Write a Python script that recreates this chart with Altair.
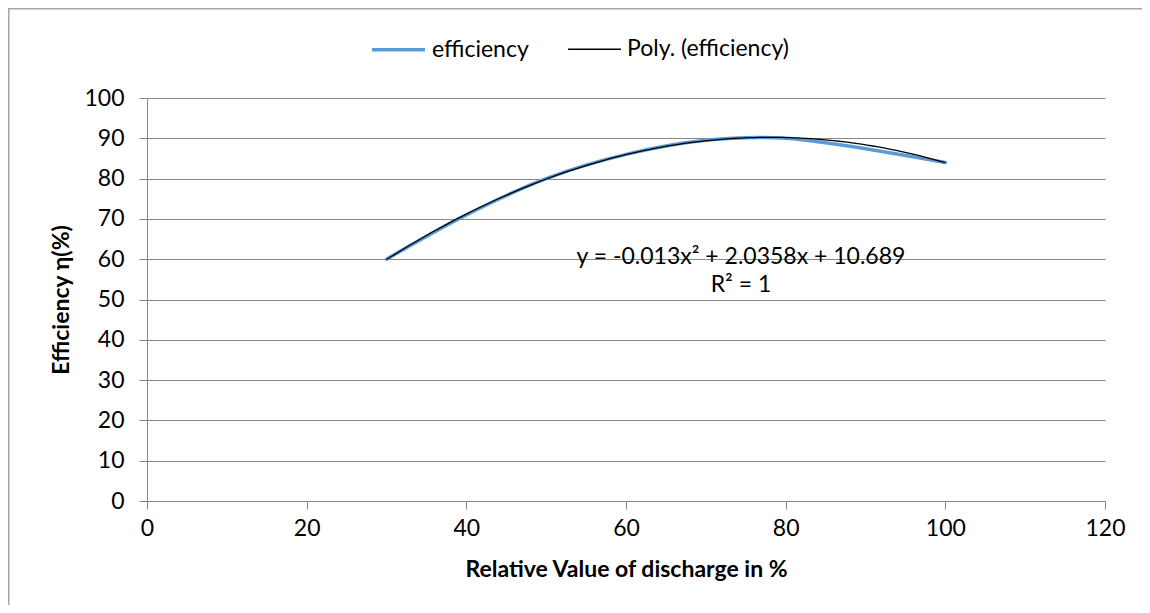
import altair as alt
import pandas as pd

# ---- data ----
discharge = [30, 40, 50, 60, 70, 80, 100]
efficiency = [60, 71, 80, 86, 89.5, 90, 84]

series_names = ["efficiency", "Poly. (efficiency)"]
series_colors = ["#5B9BD5", "#000000"]
series_widths = [3.5, 1.3]

x_ticks = [0, 20, 40, 60, 80, 100, 120]
y_ticks = [0, 10, 20, 30, 40, 50, 60, 70, 80, 90, 100]

equation_lines = ["y = -0.013x² + 2.0358x + 10.689", "R² = 1"]

df = pd.DataFrame({"discharge": discharge, "efficiency": efficiency})

FONT = "Lato"
FS = 23
GRID = "#878787"
W, H = 958, 403
PAD_L, PAD_T = 139, 90
PAD_R = 1134 - PAD_L - W
PAD_B = 597 - PAD_T - H

xscale = alt.Scale(domain=[0, 120], nice=False)
yscale = alt.Scale(domain=[0, 100], nice=False)

legend_cfg = dict(
    title=None, orient="none", direction="horizontal",
    legendX=223, legendY=-77,
    symbolType="stroke", symbolSize=2800,
    labelFontSize=FS, labelFont=FONT, labelColor="#000000",
    labelOffset=5, columnPadding=36, labelLimit=0,
)

color = alt.Color("series:N",
                  scale=alt.Scale(domain=series_names, range=series_colors),
                  legend=alt.Legend(**legend_cfg))
swidth = alt.StrokeWidth("series:N",
                         scale=alt.Scale(domain=series_names, range=series_widths),
                         legend=alt.Legend(**legend_cfg))

x_enc = alt.X("discharge:Q", scale=xscale,
              axis=alt.Axis(values=x_ticks, grid=False, labelFlush=False,
                            title="Relative Value of discharge in %",
                            titleX=W / 2, titleY=68, titleAlign="center",
                            titleBaseline="middle",
                            labelPadding=8, tickSize=8))
y_enc = alt.Y("efficiency:Q", scale=yscale,
              axis=alt.Axis(values=y_ticks, grid=True, labelFlush=False,
                            title="Efficiency η(%)",
                            titleX=-86, titleY=H / 2, titleAngle=270,
                            titleAlign="center", titleBaseline="middle",
                            labelPadding=15, tickSize=8))

line = alt.Chart(df).transform_calculate(
    series="'efficiency'"
).mark_line(interpolate="catmull-rom", strokeCap="round").encode(
    x=x_enc, y=y_enc, color=color, strokeWidth=swidth
)

trend = alt.Chart(df).transform_regression(
    "discharge", "efficiency", method="poly", order=2, extent=[30, 100]
).transform_calculate(
    series="'Poly. (efficiency)'"
).mark_line().encode(
    x=alt.X("discharge:Q", scale=xscale),
    y=alt.Y("efficiency:Q", scale=yscale),
    color=color, strokeWidth=swidth
)

eq = alt.Chart(pd.DataFrame({"k": [0]})).mark_text(
    text=equation_lines, font=FONT, fontSize=FS, color="#000000",
    align="center", baseline="middle", lineHeight=28
).encode(x=alt.datum(74.4), y=alt.datum(60.6))

border_left = alt.Chart(pd.DataFrame({"k": [0]})).mark_rule(
    color="#A6A6A6", strokeWidth=1.5
).encode(x=alt.value(-PAD_L + 0.75), y=alt.value(-PAD_T), y2=alt.value(H + PAD_B))

border_top = alt.Chart(pd.DataFrame({"k": [0]})).mark_rule(
    color="#A6A6A6", strokeWidth=1.5
).encode(y=alt.value(-PAD_T + 0.75), x=alt.value(-PAD_L), x2=alt.value(W + PAD_R))

chart = alt.layer(line, trend, eq, border_left, border_top).properties(
    width=W, height=H,
    autosize=alt.AutoSizeParams(type="none"),
    padding={"left": PAD_L, "top": PAD_T, "right": PAD_R, "bottom": PAD_B},
    background="#FFFFFF",
).configure_view(stroke=None).configure_axis(
    labelFont=FONT, labelFontSize=FS, labelColor="#000000",
    titleFont=FONT, titleFontSize=FS, titleFontWeight="bold", titleColor="#000000",
    gridColor=GRID, gridWidth=1, domainColor=GRID, domainWidth=1,
    tickColor=GRID, tickWidth=1,
)

chart.save("out.html", embed_options={"renderer": "svg", "actions": False})
